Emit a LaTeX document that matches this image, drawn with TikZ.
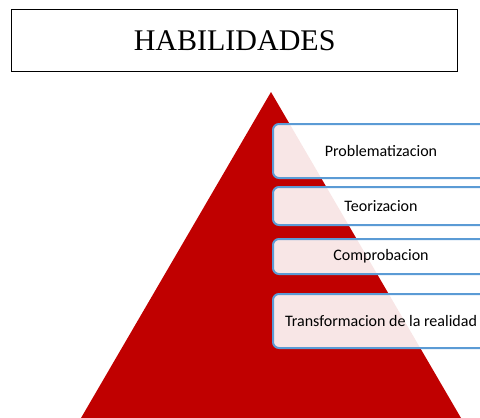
\documentclass[tikz,border=0pt]{standalone}
\usepackage{fontspec}
\setmainfont{Liberation Serif}
\newfontfamily\boxfont{Carlito}
\usepackage{tikz}
\usetikzlibrary{calc}
\definecolor{pyrred}{HTML}{C00000}
\definecolor{boxblue}{HTML}{5B9BD5}
\tikzset{
  stepbox/.style={draw=boxblue, line width=2pt, rounded corners=6pt, fill=white, fill opacity=0.9, text opacity=1,
    anchor=north west, minimum width=216pt, font=\boxfont\fontsize{16}{18}\selectfont, inner sep=0pt},
}

\begin{document}
\begin{tikzpicture}[x=1pt,y=-1pt]
    \path[use as bounding box, clip] (0,0) rectangle (480,418);
    \node[draw, line width=1.3pt, minimum width=446pt, minimum height=62pt, anchor=north west,
      font=\fontsize{30}{34}\selectfont] (title) at (11,9) {HABILIDADES};
    \coordinate (top) at (271,92);
    \coordinate (left) at (81,418);
    \coordinate (right) at (461,418);
    \fill[pyrred] (top) -- (left) -- (right) -- cycle;
    \node[stepbox, minimum height=54pt] (p1) at (272,123) {Problematizacion};
    \node[stepbox, minimum height=38pt] (p2) at (272,186) {Teorizacion};
    \node[stepbox, minimum height=35pt] (p3) at (272,238) {Comprobacion};
    \node[stepbox, minimum height=54pt] (p4) at (272,293) {Transformacion de la realidad};
\end{tikzpicture}
\end{document}
